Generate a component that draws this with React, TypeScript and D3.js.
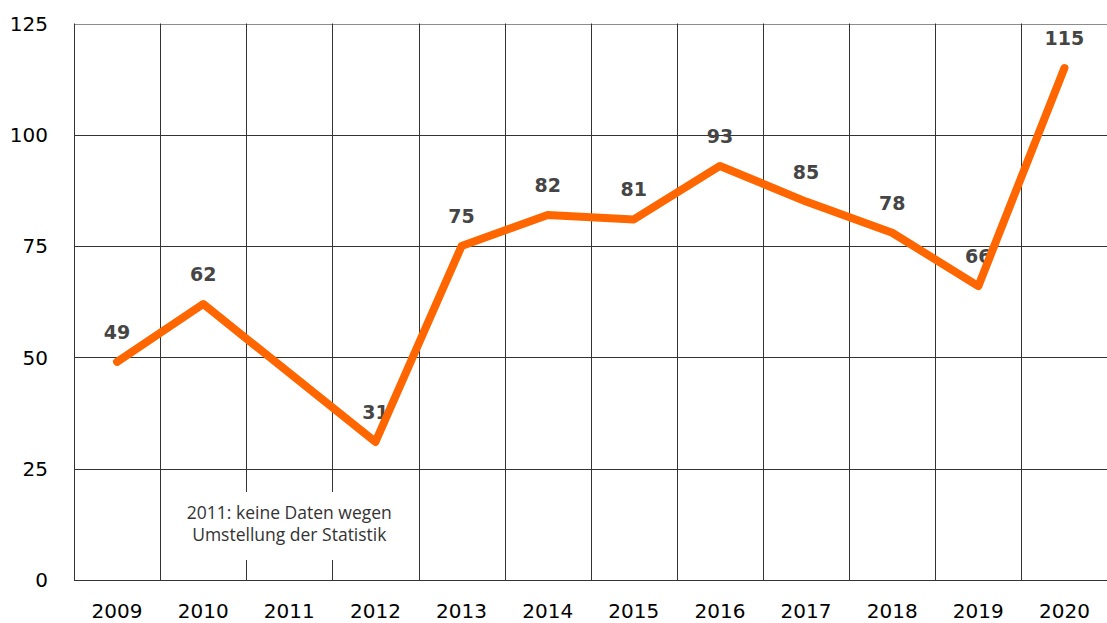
import React from "react";
import * as d3 from "d3";

const years = ["2009","2010","2011","2012","2013","2014","2015","2016","2017","2018","2019","2020"];
const values: (number | null)[] = [49, 62, null, 31, 75, 82, 81, 93, 85, 78, 66, 115];
const yTicks = [0, 25, 50, 75, 100, 125];
const noteLines = ["2011: keine Daten wegen", "Umstellung der Statistik"];

const W = 1107, H = 623;
const left = 74, right = 1107.5, top = 23.5, bottom = 580;

export default function App() {
  const x = d3.scaleBand<string>().domain(years).range([left, right]).padding(0);
  const y = d3.scaleLinear().domain([0, 125]).range([bottom, top]);
  const pts = years
    .map((yr, i) => ({ yr, v: values[i] }))
    .filter((d) => d.v !== null) as { yr: string; v: number }[];
  const cx = (yr: string) => (x(yr) as number) + x.bandwidth() / 2;
  const line = d3.line<{ yr: string; v: number }>().x((d) => cx(d.yr)).y((d) => y(d.v));
  const noteX = cx("2011");
  return (
    <div style={{ position: "fixed", left: 0, top: 0 }}>
      <svg width={W} height={H} style={{ display: "block", background: "#fff" }}>
        {/* horizontal gridlines */}
        {yTicks.map((t) => (
          <line key={"h" + t} x1={left} x2={right} y1={Math.round(y(t)) + 0.5} y2={Math.round(y(t)) + 0.5}
            stroke={t === 125 ? "#8c8c8c" : "#333"} strokeWidth={1} />
        ))}
        {/* vertical gridlines */}
        {years.map((yr) => (
          <line key={"v" + yr} x1={Math.round(x(yr) as number) + 0.5} x2={Math.round(x(yr) as number) + 0.5}
            y1={top} y2={bottom} stroke="#333" strokeWidth={1} />
        ))}
        {/* note box */}
        <rect x={noteX - 112} y={492} width={224} height={68} fill="#fff" />
        {noteLines.map((t, i) => (
          <text key={t} x={noteX} y={519 + i * 22} textAnchor="middle" fontFamily="'Open Sans', sans-serif"
            fontSize={17.5} fill="#333">{t}</text>
        ))}
        {/* y tick labels */}
        {yTicks.map((t) => (
          <text key={"yl" + t} x={48} y={y(t)} dy="0.36em" textAnchor="end" fontFamily="'DejaVu Sans', sans-serif"
            fontSize={20} fill="#000">{t}</text>
        ))}
        {/* x tick labels */}
        {years.map((yr) => (
          <text key={"xl" + yr} x={cx(yr)} y={618} textAnchor="middle" fontFamily="'DejaVu Sans', sans-serif"
            fontSize={20} fill="#000">{yr}</text>
        ))}
        {/* data labels */}
        {pts.map((d) => (
          <text key={"dl" + d.yr} x={cx(d.yr)} y={y(d.v) - 23} textAnchor="middle" fontFamily="'DejaVu Sans', sans-serif"
            fontWeight="bold" fontSize={19} fill="#454545">{d.v}</text>
        ))}
        {/* line */}
        <path d={line(pts) as string} fill="none" stroke="#ff6600" strokeWidth={8}
          strokeLinejoin="round" strokeLinecap="round" />
      </svg>
    </div>
  );
}
